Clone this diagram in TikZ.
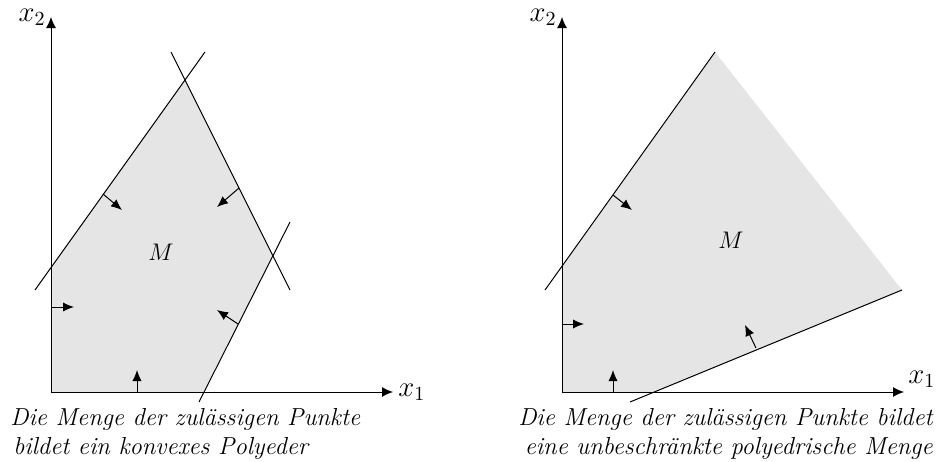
\documentclass[tikz,border=0pt]{standalone}
\usepackage{fontspec}
\usetikzlibrary{arrows.meta}
\tikzset{
  every node/.style={font=\fontsize{12}{14.5}\selectfont},
  axlabel/.style={font=\fontsize{14}{17}\selectfont},
  ln/.style={line width=0.5pt},
  ax/.style={line width=0.5pt,-{Latex[length=5.5pt,width=5pt]}},
  nrm/.style={line width=0.5pt,-{Latex[length=5.5pt,width=4.6pt]}},
  region/.style={fill=black!10, draw=none},
  captxt/.style={inner sep=0pt, font=\fontsize{12.3}{14.5}\selectfont\itshape}
}
\begin{document}
\begin{tikzpicture}[x=0.5pt,y=-0.5pt]
\useasboundingbox (0,0) rectangle (938,461);
% ---------- left diagram ----------
\coordinate (O1) at (51,392);
\coordinate (Y1) at (51,17);
\coordinate (X1) at (393,392);
\fill[region] (51,392) -- (51,268) -- (185,80) -- (273,256) -- (203,392) -- cycle;
\coordinate (a1) at (35,290);  \coordinate (a2) at (205,52);
\coordinate (b1) at (171,52);  \coordinate (b2) at (290,290);
\coordinate (c1) at (290,222); \coordinate (c2) at (199,402);
\draw[ln] (a1) -- (a2);
\draw[ln] (b1) -- (b2);
\draw[ln] (c1) -- (c2);
\draw[ax] (O1) -- (X1);
\draw[ax] (O1) -- (Y1);
\node[axlabel, anchor=east, inner sep=2.5pt] (lx2) at (Y1) {$x_2$};
\node[axlabel, anchor=west, inner sep=2.5pt] (lx1) at (X1) {$x_1$};
\coordinate (n1s) at (103,194); \coordinate (n1e) at (122,210);
\coordinate (n2s) at (239,188); \coordinate (n2e) at (217,207);
\coordinate (n3s) at (238,324); \coordinate (n3e) at (217,310);
\coordinate (n4s) at (51,307);  \coordinate (n4e) at (74,307);
\coordinate (n5s) at (137,392); \coordinate (n5e) at (137,370);
\draw[nrm] (n1s) -- (n1e);
\draw[nrm] (n2s) -- (n2e);
\draw[nrm] (n3s) -- (n3e);
\draw[nrm] (n4s) -- (n4e);
\draw[nrm] (n5s) -- (n5e);
\node (M1) at (161,252) {$M$};
\node[captxt, anchor=base west] (capL1) at (10,425) {Die Menge der zulässigen Punkte};
\node[captxt, anchor=base west] (capL2) at (13,454) {bildet ein konvexes Polyeder};
% ---------- right diagram ----------
\coordinate (O2) at (562,392);
\coordinate (Y2) at (562,17);
\coordinate (X2) at (904,392);
\fill[region] (562,392) -- (562,267) -- (715,52) -- (902,290) -- (655,392) -- cycle;
\coordinate (d1) at (545,290); \coordinate (d2) at (715,52);
\coordinate (e1) at (902,290); \coordinate (e2) at (630,402);
\draw[ln] (d1) -- (d2);
\draw[ln] (e1) -- (e2);
\draw[ax] (O2) -- (X2);
\draw[ax] (O2) -- (Y2);
\node[axlabel, anchor=east, inner sep=2.5pt] (rx2) at (Y2) {$x_2$};
\node[axlabel, anchor=south west, inner sep=2pt] (rx1) at (X2) {$x_1$};
\coordinate (m1s) at (613,195); \coordinate (m1e) at (632,210);
\coordinate (m2s) at (756,348); \coordinate (m2e) at (745,325);
\coordinate (m3s) at (562,324); \coordinate (m3e) at (584,324);
\coordinate (m4s) at (613,392); \coordinate (m4e) at (613,370);
\draw[nrm] (m1s) -- (m1e);
\draw[nrm] (m2s) -- (m2e);
\draw[nrm] (m3s) -- (m3e);
\draw[nrm] (m4s) -- (m4e);
\node (M2) at (731,240) {$M$};
\node[captxt, anchor=base east] (capR1) at (933,425) {Die Menge der zulässigen Punkte bildet};
\node[captxt, anchor=base east] (capR2) at (933,454) {eine unbeschränkte polyedrische Menge};
\end{tikzpicture}
\end{document}
